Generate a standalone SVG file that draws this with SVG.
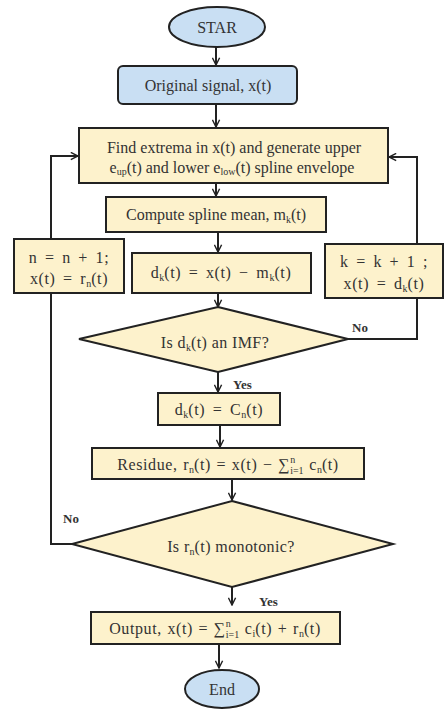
<svg xmlns="http://www.w3.org/2000/svg" width="445" height="709" viewBox="0 0 445 709">
<style>
.blue{fill:#c9dff3;stroke:#222;stroke-width:2}
.yel{fill:#fdf2cc;stroke:#222;stroke-width:2}
.t{font-family:"Liberation Serif",serif;font-size:16px;fill:#333;text-anchor:middle}
.d{font-family:"Liberation Serif",serif;font-size:16px;fill:#333;text-anchor:middle;letter-spacing:0.4px}
.m{font-family:"Liberation Serif",serif;font-size:16px;fill:#333;text-anchor:middle;letter-spacing:0.6px;word-spacing:3px}
.w{word-spacing:1px}
.lab{font-family:"Liberation Serif",serif;font-size:13px;font-weight:bold;fill:#333}
.s{font-size:10px;letter-spacing:0}
.c{fill:none;stroke:#222;stroke-width:2}
</style>
<defs>
<marker id="arr" viewBox="0 0 10 10" refX="9" refY="5" markerWidth="9" markerHeight="9" orient="auto" markerUnits="userSpaceOnUse">
<path d="M1,1 L9,5 L1,9" fill="none" stroke="#222" stroke-width="1.6"/>
</marker>
</defs>
<g id="connectors">
<path class="c" d="M216,47 V65" marker-end="url(#arr)"/>
<path class="c" d="M216,104 V127" marker-end="url(#arr)"/>
<path class="c" d="M216,183 V196" marker-end="url(#arr)"/>
<path class="c" d="M218,232 V252" marker-end="url(#arr)"/>
<path class="c" d="M218,293 V307" marker-end="url(#arr)"/>
<path class="c" d="M218,372 V392" marker-end="url(#arr)"/>
<path class="c" d="M220,425 V447" marker-end="url(#arr)"/>
<path class="c" d="M232,479 V500" marker-end="url(#arr)"/>
<path class="c" d="M232,587 V605" marker-end="url(#arr)"/>
<path class="c" d="M219,644 V668" marker-end="url(#arr)"/>
<path class="c" d="M348,339 H417 V298"/>
<path class="c" d="M417,244 V157 H389" marker-end="url(#arr)"/>
<path class="c" d="M72,544 H51 V293"/>
<path class="c" d="M51,239 V156 H78" marker-end="url(#arr)"/>
<text class="lab" x="233" y="389">Yes</text>
<text class="lab" x="352" y="332">No</text>
<text class="lab" x="63" y="523">No</text>
<text class="lab" x="259" y="606">Yes</text>
</g>
<g id="start">
<ellipse class="blue" cx="217" cy="27" rx="48" ry="20"/>
<text class="t" x="217" y="33">STAR</text>
</g>
<g id="original">
<rect class="blue" x="118" y="66" width="179" height="38" rx="5"/>
<text class="t" x="208" y="91">Original signal, x(t)</text>
</g>
<g id="extrema">
<rect class="yel" x="79" y="128" width="309" height="55"/>
<text class="t" x="234" y="153">Find extrema in x(t) and generate upper</text>
<text class="t" x="232" y="173">e<tspan class="s" dy="2">up</tspan><tspan dy="-2">(t) and lower e</tspan><tspan class="s" dy="2">low</tspan><tspan dy="-2">(t) spline envelope</tspan></text>
</g>
<g id="mean">
<rect class="yel" x="106" y="197" width="220" height="35"/>
<text class="t" x="216" y="220">Compute spline mean, m<tspan class="s" dy="3">k</tspan><tspan dy="-3">(t)</tspan></text>
</g>
<g id="nupdate">
<rect class="yel" x="14" y="239" width="110" height="54"/>
<text class="m" x="69" y="263">n = n + 1;</text>
<text class="m" x="69" y="284">x(t) = r<tspan class="s" dy="3">n</tspan><tspan dy="-3">(t)</tspan></text>
</g>
<g id="dk">
<rect class="yel" x="132" y="253" width="179" height="40"/>
<text class="m" x="221" y="278">d<tspan class="s" dy="3">k</tspan><tspan dy="-3">(t) = x(t) − m</tspan><tspan class="s" dy="3">k</tspan><tspan dy="-3">(t)</tspan></text>
</g>
<g id="kupdate">
<rect class="yel" x="325" y="244" width="118" height="54"/>
<text class="m" x="384" y="267">k = k + 1 ;</text>
<text class="m" x="384" y="289">x(t) = d<tspan class="s" dy="3">k</tspan><tspan dy="-3">(t)</tspan></text>
</g>
<g id="imf">
<polygon class="yel" points="218,307 348,339 218,372 79,339"/>
<text class="d" x="215" y="348">Is d<tspan class="s" dy="3">k</tspan><tspan dy="-3">(t) an IMF?</tspan></text>
</g>
<g id="cn">
<rect class="yel" x="158" y="393" width="122" height="32"/>
<text class="m" x="219" y="415">d<tspan class="s" dy="3">k</tspan><tspan dy="-3">(t) = C</tspan><tspan class="s" dy="3">n</tspan><tspan dy="-3">(t)</tspan></text>
</g>
<g id="residue">
<rect class="yel" x="92" y="448" width="272" height="31"/>
<text class="m w" x="228" y="470">Residue, r<tspan class="s" dy="3">n</tspan><tspan dy="-3">(t) = x(t) − ∑</tspan><tspan class="s" dy="-7">n</tspan><tspan class="s" dx="-5" dy="11">i=1</tspan><tspan dy="-4"> c</tspan><tspan class="s" dy="3">n</tspan><tspan dy="-3">(t)</tspan></text>
</g>
<g id="monotonic">
<polygon class="yel" points="232,501 393,544 232,587 72,544"/>
<text class="d" x="231" y="552">Is r<tspan class="s" dy="3">n</tspan><tspan dy="-3">(t) monotonic?</tspan></text>
</g>
<g id="output">
<rect class="yel" x="91" y="612" width="249" height="32"/>
<text class="m w" x="215" y="634">Output, x(t) = ∑<tspan class="s" dy="-7">n</tspan><tspan class="s" dx="-5" dy="11">i=1</tspan><tspan dy="-4"> c</tspan><tspan class="s" dy="3">i</tspan><tspan dy="-3">(t) + r</tspan><tspan class="s" dy="3">n</tspan><tspan dy="-3">(t)</tspan></text>
</g>
<g id="end">
<ellipse class="blue" cx="222" cy="689" rx="37" ry="19"/>
<text class="t" x="222" y="695">End</text>
</g>
</svg>
